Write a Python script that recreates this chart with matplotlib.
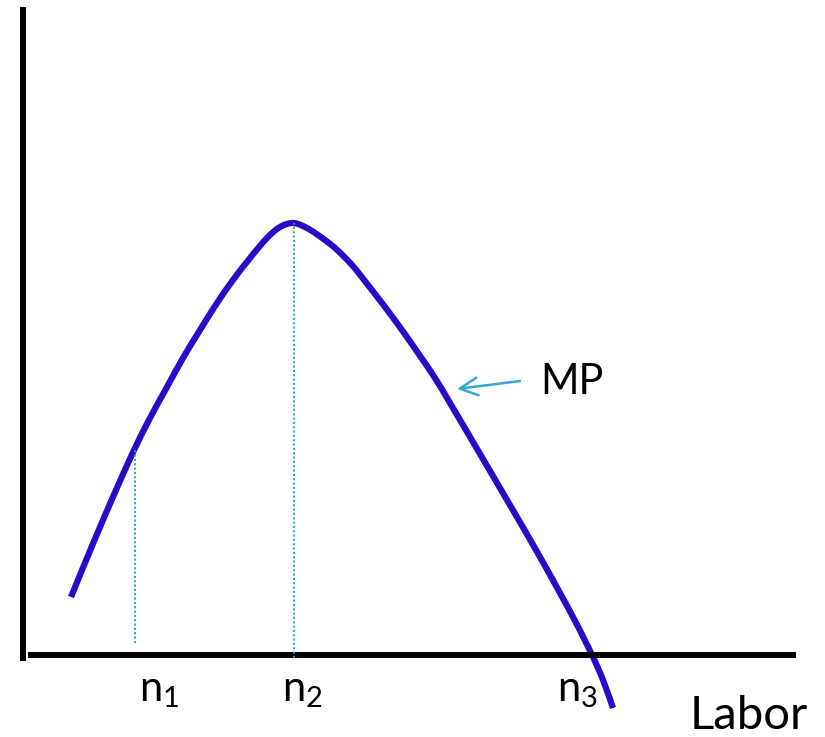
import matplotlib
matplotlib.use("Agg")
import matplotlib.pyplot as plt
from matplotlib.path import Path
from matplotlib.patches import PathPatch

plt.rcParams['font.family'] = ['Lato', 'DejaVu Sans']

# Marginal product curve (labor, MP)
labor = [48, 64, 80, 97, 112, 127, 144, 160, 177, 194, 210, 227, 244, 257, 270,
         282, 295, 312, 329, 345, 362, 379, 395, 412, 427, 450, 484, 517, 550,
         569, 580, 590]
mp = [58, 97, 135, 174, 207, 237, 268, 297, 325, 352, 375, 397, 417, 428, 432,
      428, 420, 407, 390, 370, 348, 325, 302, 277, 252, 213, 155, 98, 38,
      0, -25, -53]

# Reference levels of labor
n_positions = [112, 271, 554]
n_heights = [207, 432, 0]
n_labels = ["1", "2", "3"]

fig = plt.figure(figsize=(8.25, 7.37), dpi=100)
ax = fig.add_axes([0, 0, 1, 1])
ax.set_xlim(-23, 802)
ax.set_ylim(-82, 655)
ax.axis('off')

# axes lines
ax.plot([0, 0], [-6, 648], color='black', lw=4.3, solid_capstyle='butt')
ax.plot([5, 773], [0, 0], color='black', lw=4.3, solid_capstyle='butt')

# dotted guides
dot_col = '#21A1C4'
ax.plot([n_positions[0]] * 2, [12, n_heights[0]], color=dot_col, lw=1.3,
        linestyle=(0, (1.2, 1.2)))
ax.plot([n_positions[1]] * 2, [-3, n_heights[1]], color=dot_col, lw=1.3,
        linestyle=(0, (1.2, 1.2)))

# MP curve: smooth Bezier path through the read points (Catmull-Rom)
pts = list(zip(labor, mp))
verts = [pts[0]]
codes = [Path.MOVETO]
n = len(pts)
for i in range(n - 1):
    p0 = pts[i - 1] if i > 0 else pts[i]
    p1 = pts[i]
    p2 = pts[i + 1]
    p3 = pts[i + 2] if i + 2 < n else pts[i + 1]
    c1 = (p1[0] + (p2[0] - p0[0]) / 6.0, p1[1] + (p2[1] - p0[1]) / 6.0)
    c2 = (p2[0] - (p3[0] - p1[0]) / 6.0, p2[1] - (p3[1] - p1[1]) / 6.0)
    verts += [c1, c2, p2]
    codes += [Path.CURVE4] * 3
curve = PathPatch(Path(verts, codes), fill=False, edgecolor='#2A0AC8',
                  lw=4.5, capstyle='butt', joinstyle='round')
ax.add_patch(curve)

# arrow and label
ax.annotate("", xy=(434, 266), xytext=(497, 274),
            arrowprops=dict(arrowstyle='->', color='#3BA7C8', lw=1.8,
                            mutation_scale=32, shrinkA=0, shrinkB=0))
ax.text(517, 273, "MP", fontsize=30, va='center', ha='left', color='black')

# n labels
label_x = [136, 279, 554]
for x, s in zip(label_x, n_labels):
    ax.text(x, -36, r"$\mathregular{n_{" + s + r"}}$", fontsize=30,
            ha='center', va='center', color='black')

ax.text(726, -61, "Labor", fontsize=34, ha='center', va='center',
        color='black')

fig.savefig("out.png", dpi=100)
